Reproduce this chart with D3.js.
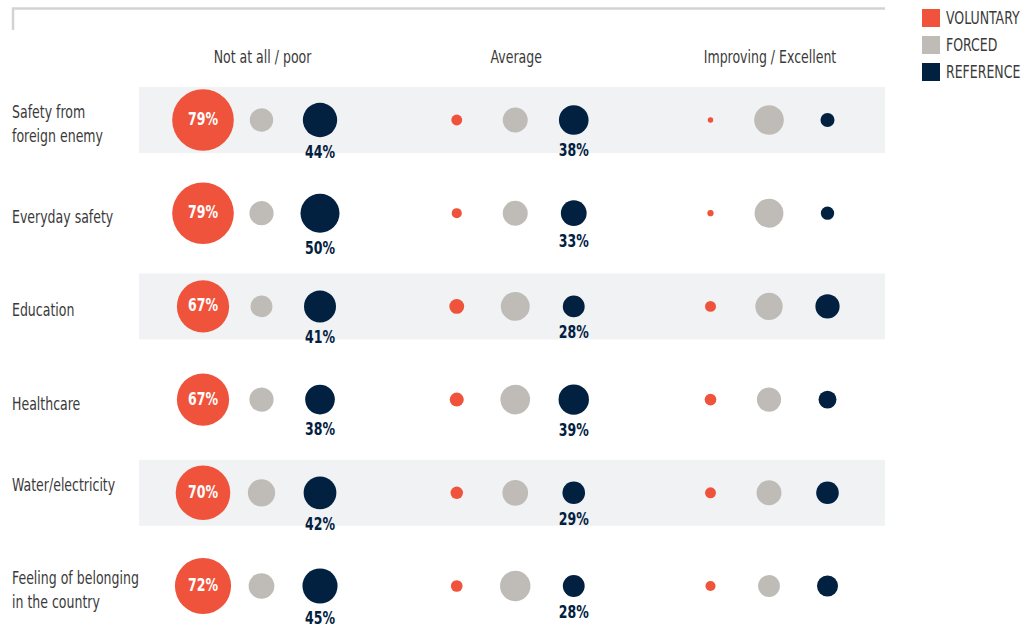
<!DOCTYPE html>
<html>
<head>
<meta charset="utf-8">
<script src="https://cdn.jsdelivr.net/npm/d3@7"></script>
<style>
  html, body { margin: 0; padding: 0; background: #fff; }
  svg { display: block; }
  text { font-family: "Liberation Sans Narrow", "DejaVu Sans Condensed", "Roboto", sans-serif; }
</style>
</head>
<body>
<svg id="chart" width="1030" height="632"></svg>
<script>
// Row categories (line breaks as drawn)
const categories = [
  ["Safety from", "foreign enemy"],
  ["Everyday safety"],
  ["Education"],
  ["Healthcare"],
  ["Water/electricity", ""],
  ["Feeling of belonging", "in the country"]
];
const categoryKeys = categories.map(c => c.join(" ").trim());

// Rating groups (columns)
const groups = ["Not at all / poor", "Average", "Improving / Excellent"];

// Respondent series
const series = ["VOLUNTARY", "FORCED", "REFERENCE"];
const seriesColors = ["#ef533b", "#bfbcb7", "#022040"];

// Shares (%) per category, in group order
const voluntary = [
  [79, 14, 7],
  [79, 13, 8],
  [67, 19, 14],
  [67, 18, 15],
  [70, 16, 14],
  [72, 15, 13]
];
const forced = [
  [30, 32, 38],
  [31, 32, 37],
  [28, 37, 35],
  [31, 38, 31],
  [35, 33, 32],
  [33, 39, 28]
];
const reference = [
  [44, 38, 18],
  [50, 33, 17],
  [41, 28, 31],
  [38, 39, 23],
  [42, 29, 29],
  [45, 28, 27]
];
const seriesValues = [voluntary, forced, reference];

// Flatten into marks
const marks = [];
categoryKeys.forEach((cat, ci) => {
  groups.forEach((g, gi) => {
    series.forEach((s, si) => {
      marks.push({ cat, group: g, series: s, si, gi, value: seriesValues[si][ci][gi] });
    });
  });
});

const svg = d3.select("#chart");

// Condensed look: narrow the glyphs horizontally around their anchor
const SQUEEZE = 0.82;
function place(sel, xFn, yFn) {
  sel.attr("transform", (d, i) => `translate(${xFn(d, i)},${yFn(d, i)}) scale(${SQUEEZE},1)`);
}

// Scales
const y = d3.scalePoint().domain(categoryKeys).range([120, 586]);
const xGroup = d3.scalePoint().domain(groups).range([261.5, 769]);
const xInner = d3.scalePoint().domain(series).range([-58.5, 58.5]);
const r = d3.scaleLinear().domain([0, 100]).range([0, 39]);
const color = d3.scaleOrdinal().domain(series).range(seriesColors);

// Top bracket
svg.append("path")
  .attr("d", "M13,30 V8.5 H885")
  .attr("fill", "none")
  .attr("stroke", "#d3d3d3")
  .attr("stroke-width", 2.5);

// Alternating row bands
svg.append("g").selectAll("rect")
  .data(categoryKeys.filter((d, i) => i % 2 === 0))
  .join("rect")
  .attr("x", 139)
  .attr("width", 885 - 139)
  .attr("y", d => y(d) - 33)
  .attr("height", 66)
  .attr("fill", "#f1f2f4");

// Column headers
svg.append("g").selectAll("text")
  .data(groups)
  .join("text")
  .call(place, d => xGroup(d) + 1, () => 58)
  .attr("text-anchor", "middle")
  .attr("dominant-baseline", "middle")
  .attr("font-size", 17)
  .attr("fill", "#3a3a3a")
  .text(d => d);

// Row labels
const rowLabel = svg.append("g").selectAll("text")
  .data(categories)
  .join("text")
  .call(place, () => 12, () => 0)
  .attr("font-size", 17)
  .attr("fill", "#3a3a3a");
rowLabel.each(function(lines, i) {
  const cy = y(categoryKeys[i]) + 5;
  const lh = 24;
  const top = cy - (lines.length - 1) * lh / 2;
  d3.select(this).selectAll("tspan")
    .data(lines)
    .join("tspan")
    .attr("x", 0)
    .attr("y", (d, j) => top + j * lh)
    .attr("dominant-baseline", "middle")
    .text(d => d);
});

// Bubbles
svg.append("g").selectAll("circle")
  .data(marks)
  .join("circle")
  .attr("cx", d => xGroup(d.group) + xInner(d.series))
  .attr("cy", d => y(d.cat))
  .attr("r", d => r(d.value))
  .attr("fill", d => color(d.series));

// Value labels: inside the voluntary bubble of the first group,
// below the reference bubbles of the first two groups
const labelled = marks.filter(d =>
  (d.series === "VOLUNTARY" && d.gi === 0) ||
  (d.series === "REFERENCE" && d.gi < 2));

svg.append("g").selectAll("text")
  .data(labelled)
  .join("text")
  .call(place,
    d => xGroup(d.group) + xInner(d.series),
    d => d.series === "VOLUNTARY" ? y(d.cat) : y(d.cat) + r(d.value) + 16)
  .attr("text-anchor", "middle")
  .attr("dominant-baseline", "middle")
  .attr("font-size", 17)
  .attr("font-weight", "bold")
  .attr("fill", d => d.series === "VOLUNTARY" ? "#ffffff" : "#022040")
  .text(d => d.value + "%");

// Legend
const legend = svg.append("g").selectAll("g")
  .data(series)
  .join("g")
  .attr("transform", (d, i) => `translate(922, ${9 + i * 27})`);
legend.append("rect")
  .attr("width", 18)
  .attr("height", 18)
  .attr("fill", d => color(d));
legend.append("text")
  .call(place, () => 24, () => 10)
  .attr("dominant-baseline", "middle")
  .attr("font-size", 17)
  .attr("fill", "#3a3a3a")
  .text(d => d);
</script>
</body>
</html>
